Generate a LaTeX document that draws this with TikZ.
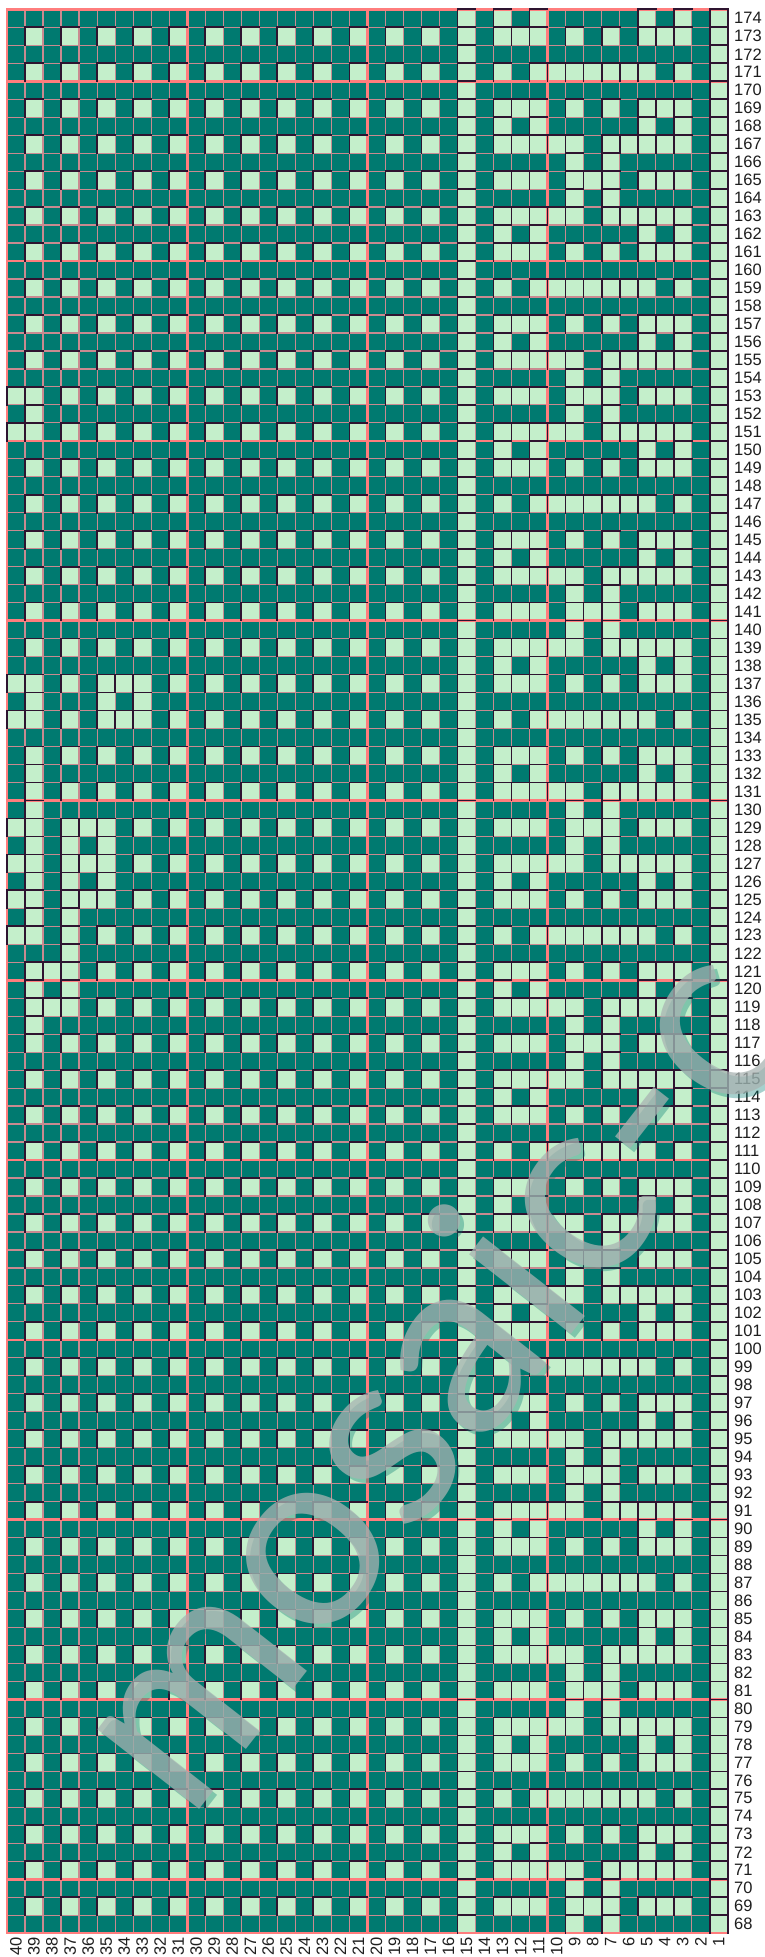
\documentclass[tikz,border=0pt]{standalone}
\usepackage{fontspec}
\setmainfont{Liberation Sans}
\newfontfamily\wmfont[LetterSpace=1]{Lato}
\definecolor{dk}{HTML}{007A70}
\definecolor{lt}{HTML}{C4EFCB}
\definecolor{redl}{HTML}{FF7D7D}
\definecolor{thinl}{HTML}{C98A90}
\definecolor{edgec}{HTML}{2E1430}
\definecolor{lbl}{HTML}{1E1E1E}
\definecolor{wm}{HTML}{A9B3B2}
% right-hand motif rows, columns 13..3 (1 = light)
\def\Pa{1,0,1,0,0,0,0,0,1,0,1}
\def\Pb{1,1,1,0,1,0,1,0,1,1,1}
\def\Pz{0,0,0,0,0,0,0,0,0,0,0}
\def\Pc{1,0,1,1,1,1,1,1,1,0,1}
\def\Pd{1,1,1,1,1,0,1,1,1,1,1}
\def\Pe{0,0,0,0,1,0,1,0,0,0,0}
\def\Pf{1,1,1,0,1,1,1,0,1,1,1}
% irregular left rows, columns 40..31
\expandafter\def\csname irrow153\endcsname{1,1,0,1,0,1,0,1,0,1}
\expandafter\def\csname irrow152\endcsname{0,1,0,0,0,0,0,0,0,0}
\expandafter\def\csname irrow151\endcsname{1,1,0,1,0,1,0,1,0,1}
\expandafter\def\csname irrow137\endcsname{1,1,0,1,0,1,1,1,0,1}
\expandafter\def\csname irrow136\endcsname{0,1,0,0,0,1,0,1,0,0}
\expandafter\def\csname irrow135\endcsname{1,1,0,1,0,1,1,1,0,1}
\expandafter\def\csname irrow132\endcsname{0,1,0,0,0,0,0,0,0,0}
\expandafter\def\csname irrow130\endcsname{0,1,0,0,0,0,0,0,0,0}
\expandafter\def\csname irrow129\endcsname{1,1,0,1,1,1,0,1,0,1}
\expandafter\def\csname irrow128\endcsname{0,1,0,1,0,1,0,0,0,0}
\expandafter\def\csname irrow127\endcsname{1,1,0,1,1,1,0,1,0,1}
\expandafter\def\csname irrow126\endcsname{0,1,0,1,0,1,0,0,0,0}
\expandafter\def\csname irrow125\endcsname{1,1,0,1,1,1,0,1,0,1}
\expandafter\def\csname irrow124\endcsname{0,1,0,1,0,0,0,0,0,0}
\expandafter\def\csname irrow123\endcsname{1,1,0,1,0,1,0,1,0,1}
\expandafter\def\csname irrow122\endcsname{0,0,0,1,0,0,0,0,0,0}
\expandafter\def\csname irrow121\endcsname{0,1,1,1,0,1,0,1,0,1}
\expandafter\def\csname irrow120\endcsname{0,1,0,1,0,0,0,0,0,0}
\expandafter\def\csname irrow119\endcsname{0,1,1,1,0,1,0,1,0,1}
\expandafter\def\csname irrow118\endcsname{0,1,0,0,0,0,0,0,0,0}
\newcommand\dofill[2]{\fill[lt] ({7+(40-#1)*18.02},{9.3+(174-#2)*17.98}) rectangle ++(18.02,17.98);}
\newcommand\doedge[2]{\draw[edgeline] ({7+(40-#1)*18.02},{9.3+(175-#2)*17.98}) |- ++(18.02,-17.98);}
\newcommand\runall{%
 \foreach \r in {68,...,174}{%
   \pgfmathtruncatemacro\idx{mod(174-\r,12)}%
   \ifodd\r
     \foreach \c in {17,19,...,29}{\lightaction{\c}{\r}}%
   \fi
   \ifcsname irrow\r\endcsname
     \expandafter\let\expandafter\lpat\csname irrow\r\endcsname
     \foreach \v [count=\i] in \lpat {\ifnum\v=1 \pgfmathtruncatemacro\cc{41-\i}\lightaction{\cc}{\r}\fi}%
   \else
     \ifodd\r
       \foreach \c in {31,33,...,39}{\lightaction{\c}{\r}}%
     \fi
   \fi
   \lightaction{15}{\r}%
   \lightaction{1}{\r}%
   \ifcase\idx \let\pat\Pa\or \let\pat\Pb\or \let\pat\Pz\or \let\pat\Pc\or
     \let\pat\Pz\or \let\pat\Pb\or \let\pat\Pa\or \let\pat\Pd\or
     \let\pat\Pe\or \let\pat\Pf\or \let\pat\Pe\or \let\pat\Pd\fi
   \foreach \v [count=\i] in \pat {\ifnum\v=1 \pgfmathtruncatemacro\cc{14-\i}\lightaction{\cc}{\r}\fi}%
 }}
\begin{document}
\begin{tikzpicture}[x=1pt,y=-1pt,
  edgeline/.style={draw=edgec,line width=1.7pt,line cap=rect},
  thingrid/.style={draw=thinl,line width=1.2pt},
  redgrid/.style={draw=redl,line width=2.6pt},
  rowlbl/.style={font=\fontsize{16.5}{16.5}\selectfont,text=lbl,inner sep=0pt,anchor=west},
  collbl/.style={font=\fontsize{16.5}{16.5}\selectfont,text=lbl,inner sep=0pt,anchor=east,rotate=90},
  wmtext/.style={font=\wmfont\fontsize{255}{255}\selectfont,inner sep=0pt,rotate=52}]
\useasboundingbox[fill=white] (0,0) rectangle (765,1957);
\fill[dk] (7,9.3) rectangle (727.8,1933.16);
\let\lightaction\dofill \runall
\foreach \k in {0,...,40} \draw[thingrid] ({7+\k*18.02},9.3) -- ({7+\k*18.02},1933.16);
\foreach \k in {0,...,107} \draw[thingrid] (7,{9.3+\k*17.98}) -- (727.8,{9.3+\k*17.98});
\foreach \k in {10,20,30} \draw[redgrid] ({7+\k*18.02},9.3) -- ({7+\k*18.02},1933.16);
\foreach \k in {4,14,...,104} \draw[redgrid] (7,{9.3+\k*17.98}) -- (727.8,{9.3+\k*17.98});
\draw[redgrid,line cap=rect] (727.8,9.3) -- (7,9.3) -- (7,1933.16) -- (727.8,1933.16);
\let\lightaction\doedge \runall
\draw[edgeline] (727.8,9.3) -- (727.8,1933.16);
\foreach \r in {68,...,174} \node[rowlbl] (r\r) at (734,{9.3+(174-\r+0.5)*17.98}) {\r};
\foreach \c in {1,...,40} \node[collbl] (c\c) at ({7+(40-\c+0.5)*18.02},1937) {\c};
\node[wmtext,text=dk,text opacity=0.35] (wmshadow) at (430,1374) {mosaic-c};
\node[wmtext,text=wm,text opacity=0.75] (wm) at (426,1370) {mosaic-c};
\end{tikzpicture}
\end{document}
